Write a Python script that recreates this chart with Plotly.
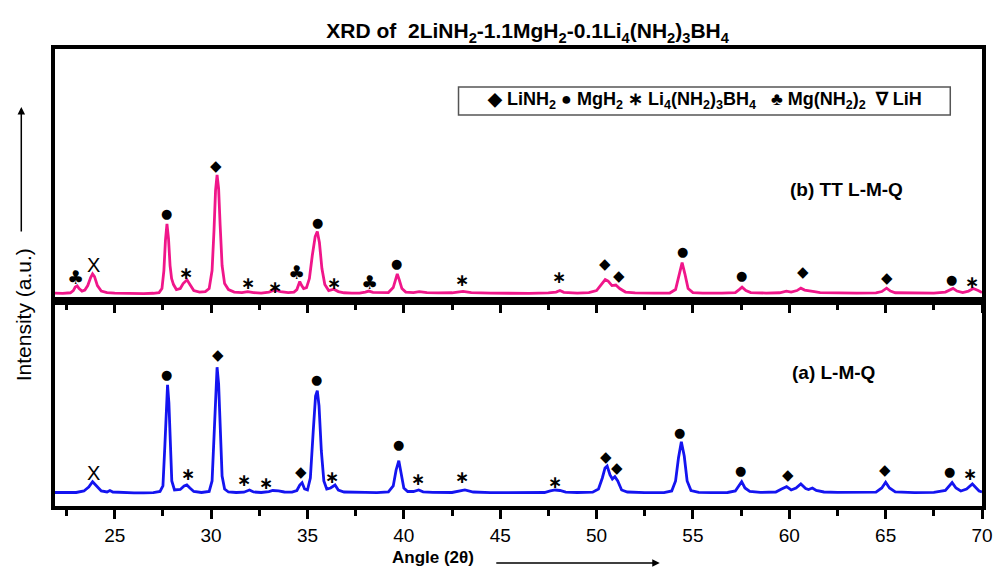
import plotly.graph_objects as go

# ---------------- data ----------------
# (b) TT L-M-Q  (upper panel, pink)
pink_angle = [21.9, 22.3, 22.7, 22.85, 22.95, 23.05, 23.15, 23.3, 23.45, 23.6, 23.75, 23.85, 23.95, 24.1, 24.3, 24.6,
              25.0, 25.5, 26.0, 26.5, 27.0, 27.3, 27.45, 27.55, 27.63, 27.71, 27.79, 27.87, 27.95, 28.05, 28.2, 28.4,
              28.55, 28.75, 28.9, 29.1, 29.4, 29.7, 29.9, 30.05, 30.15, 30.23, 30.31, 30.39, 30.47, 30.57, 30.7, 30.9,
              31.2, 31.6, 31.9, 32.2, 32.6, 33.0, 33.3, 33.6, 34.0, 34.3, 34.45, 34.6, 34.7, 34.8, 34.95, 35.1, 35.25,
              35.4, 35.51, 35.62, 35.75, 35.9, 36.1, 36.37, 36.6, 36.9, 37.3, 37.7, 38.0, 38.18, 38.4, 38.8, 39.2,
              39.45, 39.58, 39.66, 39.76, 39.9, 40.1, 40.5, 40.8, 41.2, 41.8, 42.5, 43.07, 43.5, 44.5, 45.5, 46.5,
              47.5, 47.9, 48.1, 48.3, 49.0, 49.6, 50.0, 50.25, 50.45, 50.6, 50.8, 51.0, 51.2, 51.5, 52.0, 53.0, 53.8,
              54.1, 54.28, 54.44, 54.58, 54.75, 55.0, 55.5, 56.5, 57.2, 57.4, 57.55, 57.75, 58.0, 58.8, 59.5, 59.85,
              60.1, 60.4, 60.6, 60.8, 61.1, 61.3, 61.6, 62.5, 63.5, 64.5, 64.8, 65.05, 65.25, 65.5, 66.5, 67.5, 68.1,
              68.35, 68.5, 68.7, 69.0, 69.3, 69.55, 69.8, 70.0]
pink_int = [7.5, 7.2, 7.8, 10, 13.5, 14.7, 12, 9.5, 10.5, 15, 23, 26.7, 24, 15, 9.5, 8,
            7.5, 7.2, 7, 7, 7.3, 8, 12, 30, 60, 76.7, 62, 35, 22, 16, 11, 12,
            17, 20.7, 16, 10, 8.5, 9, 12, 30, 70, 110, 125.7, 112, 75, 35, 17, 11,
            8.5, 8, 9, 8, 7.5, 8.5, 10.7, 9, 8, 8.5, 11, 19, 15, 12, 13, 22, 45,
            64, 69, 58, 32, 16, 10, 11.4, 9, 7.8, 7.5, 7.5, 8.5, 9.5, 8.2, 7.8, 8,
            13, 22, 26.7, 21, 12, 8.5, 8, 9, 8, 7.6, 7.8, 9.2, 8, 7.4, 7.2, 7.2,
            7.6, 8.5, 10, 8.2, 7.5, 8, 10, 16, 21, 19.5, 15, 15.5, 12, 8.5, 7.6, 7.4, 7.5,
            11, 26, 38, 27, 12, 8, 7.4, 7.4, 8, 11, 13.4, 10, 8, 7.5, 7.8, 9.5,
            8.5, 10, 12.4, 10.5, 10, 9, 8, 7.5, 7.5, 7.6, 9, 12.4, 9.5, 7.8, 7.4, 7.5, 8.5,
            11, 12.2, 9.5, 8, 9.5, 12, 10, 8]

# (a) L-M-Q  (lower panel, blue)
blue_angle = [21.9, 22.5, 23.0, 23.4, 23.65, 23.85, 24.05, 24.3, 24.6, 24.75, 24.9, 25.5, 26.0, 26.5, 27.0, 27.35,
              27.5, 27.6, 27.67, 27.74, 27.81, 27.88, 27.96, 28.1, 28.4, 28.6, 28.74, 28.9, 29.1, 29.5, 29.9, 30.05,
              30.15, 30.23, 30.31, 30.39, 30.47, 30.57, 30.7, 30.9, 31.3, 31.7, 31.99, 32.2, 32.6, 33.0, 33.2, 33.5,
              33.8, 34.2, 34.45, 34.6, 34.72, 34.85, 35.0, 35.15, 35.3, 35.42, 35.51, 35.6, 35.72, 35.85, 36.0, 36.2,
              36.43, 36.6, 36.9, 37.5, 38.0, 38.6, 39.2, 39.45, 39.6, 39.74, 39.87, 40.0, 40.2, 40.5, 40.77, 41.0,
              41.5, 42.5, 43.17, 43.6, 44.5, 45.5, 46.5, 47.3, 47.6, 47.85, 48.1, 48.4, 49.0, 49.8, 50.1, 50.3, 50.44,
              50.55, 50.7, 50.82, 50.95, 51.1, 51.3, 51.6, 52.5, 53.5, 53.9, 54.1, 54.25, 54.4, 54.55, 54.7, 54.9,
              55.3, 56.0, 56.8, 57.2, 57.4, 57.53, 57.7, 57.95, 58.5, 59.3, 59.6, 59.86, 60.1, 60.35, 60.6, 60.85,
              61.0, 61.2, 61.4, 61.8, 62.5, 63.5, 64.5, 64.8, 65.0, 65.2, 65.5, 66.5, 67.5, 68.1, 68.35, 68.45, 68.65,
              68.9, 69.2, 69.5, 69.7, 69.85, 70.0]
blue_int = [13.5, 13.2, 13.5, 15, 19, 24.3, 20, 15, 14, 15.5, 14, 13.3, 13.2, 13.2, 13.4, 14.5,
            20, 60, 100, 121, 103, 60, 25, 16, 16.5, 20, 21, 18, 14.5, 13.5, 14.5, 25,
            70, 120, 138.7, 122, 75, 30, 17, 14, 13.5, 13.8, 16, 14, 13.5, 14.3, 15.5, 15.2,
            14, 13.8, 15.5, 21, 23.3, 17, 16, 28, 75, 110, 115.3, 100, 55, 25, 17, 18,
            21, 16, 14, 13.5, 13.6, 13.4, 14, 20, 36, 45.3, 33, 18, 14.5, 14.5, 16, 14.2,
            13.6, 13.5, 16, 14, 13.3, 13.2, 13.2, 13.5, 15, 16, 15.5, 13.8, 13.5, 13.8, 17, 28, 38,
            40, 31, 27, 29.3, 25, 16, 14, 13.4, 13.4, 15, 25, 48, 64.3, 50, 25, 15.5,
            13.6, 13.4, 13.5, 15, 21, 24.3, 18, 14.5, 13.6, 14, 17, 19.3, 16, 18, 22, 17.5,
            16.5, 18, 15.5, 14, 13.6, 13.5, 13.8, 18, 23.7, 18, 14, 13.4, 13.6, 15.5, 21, 23.4, 18,
            15, 17, 22, 18, 15, 14]

# phase markers: angle, height, symbol
pink_mark_angle = [22.94, 23.9, 27.7, 28.72, 30.27, 31.93, 33.3, 34.43, 35.5, 36.37, 38.2, 39.62,
                   43.0, 48.06, 50.46, 51.15, 54.44, 57.5, 60.7, 65.05, 68.42, 69.5]
pink_mark_value = [24, 35.7, 87.4, 27.4, 134.7, 17.4, 14, 29, 78, 18, 18.4, 36.7,
                   20.7, 24, 36.4, 25, 49, 24.7, 28.4, 23, 21.4, 18.4]
pink_mark_symbol = ["♣", "X", "●", "∗", "◆", "∗", "∗", "♣", "●", "∗", "♣", "●",
                    "∗", "∗", "◆", "◆", "●", "●", "◆", "◆", "●", "∗"]

blue_mark_angle = [23.88, 27.68, 28.78, 30.38, 31.7, 32.85, 34.65, 35.45, 36.25, 39.7, 40.72,
                   43.0, 47.85, 50.5, 51.05, 54.3, 57.45, 59.95, 64.95, 68.3, 69.4]
blue_mark_value = [32.7, 131, 31.7, 151, 26, 22.7, 33.7, 126.7, 29.3, 61, 26.7,
                   29.3, 24.3, 48.7, 38.3, 73.5, 35, 31, 36, 34.3, 32]
blue_mark_symbol = ["X", "●", "∗", "◆", "∗", "∗", "◆", "●", "∗", "●", "∗",
                    "∗", "∗", "◆", "◆", "●", "●", "◆", "◆", "●", "∗"]

x_range = [21.9, 70.0]
x_tick_vals = [25, 30, 35, 40, 45, 50, 55, 60, 65, 70]

# ---------------- figure ----------------
PINK = "#F0168A"
BLUE = "#1414F0"
SPLIT = 0.4495

fig = go.Figure()
fig.add_trace(go.Scatter(x=blue_angle, y=blue_int, mode="lines", line=dict(color=BLUE, width=2.8),
                         xaxis="x", yaxis="y", showlegend=False, name="(a) L-M-Q"))
fig.add_trace(go.Scatter(x=pink_angle, y=pink_int, mode="lines", line=dict(color=PINK, width=2.8),
                         xaxis="x2", yaxis="y2", showlegend=False, name="(b) TT L-M-Q"))

axis_common = dict(range=x_range, tickvals=x_tick_vals, ticks="outside", ticklen=9, tickwidth=3,
                   tickcolor="black", showline=True, linewidth=3.5, linecolor="black", mirror=True,
                   showgrid=False, zeroline=False,
                   minor=dict(ticks="outside", ticklen=6, tickwidth=3, tickcolor="black", dtick=2.5,
                              tick0=22.5, showgrid=False))
fig.update_layout(
    xaxis=dict(**axis_common, domain=[0, 1], anchor="y",
               tickfont=dict(family="Liberation Sans, Arial", size=19, color="black")),
    xaxis2=dict(**axis_common, domain=[0, 1], anchor="y2", matches="x", showticklabels=False),
    yaxis=dict(domain=[0, SPLIT], range=[0, 205.3], showticklabels=False, ticks="", showgrid=False,
               zeroline=False, showline=True, linewidth=3.5, linecolor="black", mirror=True),
    yaxis2=dict(domain=[SPLIT, 1], range=[0, 251.4], showticklabels=False, ticks="", showgrid=False,
                zeroline=False, showline=True, linewidth=3.5, linecolor="black", mirror=True),
    width=1005, height=569,
    margin=dict(l=55, r=15, t=49, b=63),
    paper_bgcolor="white", plot_bgcolor="white",
    font=dict(family="Liberation Sans, Arial", color="black"),
    title=dict(text="<b>XRD of  2LiNH<sub>2</sub>-1.1MgH<sub>2</sub>-0.1Li<sub>4</sub>(NH<sub>2</sub>)<sub>3</sub>BH<sub>4</sub></b>",
               x=0.525, xanchor="center", xref="container", y=1 - 31 / 569, yanchor="middle", yref="container",
               font=dict(size=21, color="black", family="Liberation Sans, Arial")),
)

SYM_FONT = {"◆": ("DejaVu Sans", 15), "●": ("DejaVu Sans", 13), "∗": ("DejaVu Sans", 17),
            "♣": ("DejaVu Sans", 19), "X": ("Liberation Sans", 20)}

annotations = []
for ax_name, ay_name, angs, vals, syms in [("x2", "y2", pink_mark_angle, pink_mark_value, pink_mark_symbol),
                                           ("x", "y", blue_mark_angle, blue_mark_value, blue_mark_symbol)]:
    for a, v, s in zip(angs, vals, syms):
        fam, sz = SYM_FONT[s]
        txt = "<b>" + s + "</b>" if s == "∗" else s
        annotations.append(dict(x=a, y=v, xref=ax_name, yref=ay_name, text=txt, showarrow=False,
                                xanchor="center", yanchor="middle",
                                font=dict(family=fam, size=sz, color="black")))

# sample labels
annotations.append(dict(x=(853 - 55) / 935, y=(506 - 189) / 457, xref="paper", yref="paper",
                        text="<b>(b) TT L-M-Q</b>", xanchor="center", yanchor="middle",
                        showarrow=False, font=dict(size=19, color="black")))
annotations.append(dict(x=(840 - 55) / 935, y=(506 - 372) / 457, xref="paper", yref="paper",
                        text="<b>(a) L-M-Q</b>", xanchor="center", yanchor="middle",
                        showarrow=False, font=dict(size=19, color="black")))

# phase key
annotations.append(dict(x=(710 - 55) / 935, y=(506 - 101) / 457, xref="paper", yref="paper",
                        xanchor="center", yanchor="middle",
                        text="<b>◆ LiNH<sub>2</sub> ● MgH<sub>2</sub> ∗ Li<sub>4</sub>(NH<sub>2</sub>)<sub>3</sub>BH<sub>4</sub>"
                             "   ♣ Mg(NH<sub>2</sub>)<sub>2</sub>  ∇ LiH</b>",
                        showarrow=False, font=dict(size=18, color="black")))

# axis titles with arrows
annotations.append(dict(x=(436 - 55) / 935, y=(506 - 557) / 457, xref="paper", yref="paper",
                        xanchor="center", yanchor="middle",
                        text="<b>Angle (2θ)</b>", showarrow=False, font=dict(size=17, color="black")))
annotations.append(dict(x=(665 - 55) / 935, y=(506 - 563) / 457, xref="paper", yref="paper", text="",
                        showarrow=True, ax=-165, ay=0, arrowhead=2, arrowsize=1, arrowwidth=1.5,
                        arrowcolor="black"))
annotations.append(dict(x=(23 - 55) / 935, y=(506 - 315) / 457, xref="paper", yref="paper",
                        xanchor="center", yanchor="middle",
                        text="Intensity (a.u.)", textangle=-90, showarrow=False,
                        font=dict(size=21, color="black")))
annotations.append(dict(x=(21 - 55) / 935, y=(506 - 107) / 457, xref="paper", yref="paper", text="",
                        showarrow=True, ax=0, ay=126, arrowhead=2, arrowsize=1, arrowwidth=1.5,
                        arrowcolor="black"))

fig.update_layout(annotations=annotations)

# key box
fig.add_shape(type="rect", xref="paper", yref="paper",
              x0=(462 - 55) / 935, x1=(958 - 55) / 935, y0=(506 - 115) / 457, y1=(506 - 87) / 457,
              line=dict(color="#555555", width=1.5), fillcolor="rgba(0,0,0,0)")

fig.write_html("out.html", config={"displayModeBar": False},
               post_script="document.body.style.margin='0';document.body.style.padding='0';")
